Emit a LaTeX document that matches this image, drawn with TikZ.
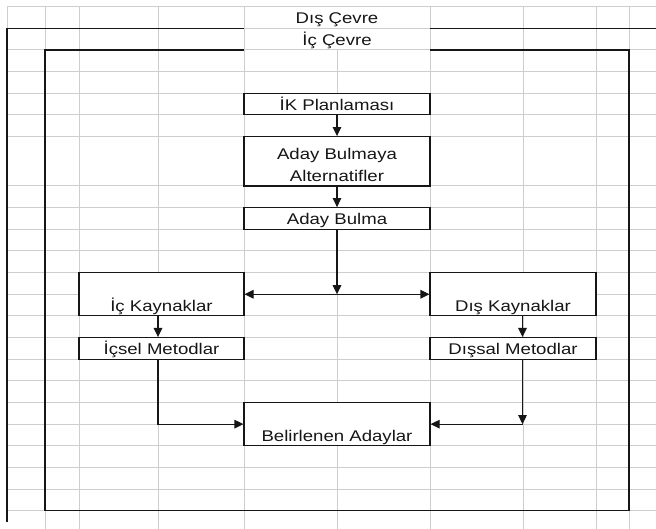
\documentclass[tikz,border=0pt]{standalone}
\usepackage{fontspec}
\setmainfont{Liberation Sans}[FakeStretch=1.2]
\usetikzlibrary{arrows.meta}
\definecolor{gridgray}{RGB}{206,206,206}
\definecolor{ink}{RGB}{22,22,22}
\begin{document}
\begin{tikzpicture}[x=1pt,y=-1pt,
  txt/.style={font=\fontsize{15.5pt}{21.7pt}\selectfont, text=ink, inner sep=0pt},
  gridline/.style={draw=gridgray, line width=1pt},
  frameline/.style={draw=ink, line width=1.3pt},
  box/.style={txt, draw=ink, line width=1.1pt, fill=white},
  boxone/.style={box, minimum height=21.65pt, text height=17.2pt, text depth=4.45pt},
  boxtwo/.style={box, minimum height=43.3pt, text height=38.85pt, text depth=4.45pt},
  title/.style={txt, text height=17.2pt, text depth=4.45pt},
  arr/.style={draw=ink, line width=1.1pt, -{Triangle[length=9pt,width=8.5pt]}},
  arrtwo/.style={draw=ink, line width=1.1pt, {Triangle[length=9pt,width=8.5pt]}-{Triangle[length=9pt,width=8.5pt]}}
]
\useasboundingbox (0,0) rectangle (656,529);
\fill[white] (0,0) rectangle (656,529);

% worksheet grid
\foreach \y in {6.7,28.35,50,71.65,93.3,114.95,136.6,186,207.65,229.3,250.95,
                272.6,294.25,315.9,337.55,359.2,380.85,402.5,424.15,445.8,
                467.45,489.1,510.75}
  \draw[gridline] (7,\y) -- (656,\y);
\foreach \x in {45,79,158,244,430,523,596,629}
  \draw[gridline] (\x,6.7) -- (\x,529);
\draw[gridline] (337,50) -- (337,529);
\draw[gridline] (7,6.7) -- (7,28.35);

% outer and inner environment frames
\draw[frameline] (244,28.35) -- (7,28.35) -- (7,521.7);
\draw[frameline] (430,28.35) -- (656,28.35);
\draw[frameline] (244,50) -- (45,50) -- (45,510.75) -- (629,510.75) -- (629,50) -- (430,50);
\node[title] (dis) at (337,17.5) {Dış Çevre};
\node[title] (ic) at (337,39.2) {İç Çevre};

% process boxes
\node[boxone, minimum width=186pt] (ik) at (337,104.125) {İK Planlaması};
\node[box, minimum width=186pt, minimum height=49.4pt] (abma) at (337,161.3) {};
\node[txt, align=center] (abmatext) at (337,164.7) {Aday Bulmaya\\Alternatifler};
\node[boxone, minimum width=186pt] (ab) at (337,218.475) {Aday Bulma};
\node[boxtwo, minimum width=165pt] (ick) at (161.5,294.25) {İç Kaynaklar};
\node[boxone, minimum width=165pt] (icm) at (161.5,348.375) {İçsel Metodlar};
\node[boxtwo, minimum width=166pt] (dk) at (513,294.25) {Dış Kaynaklar};
\node[boxone, minimum width=166pt] (dm) at (513,348.375) {Dışsal Metodlar};
\node[boxtwo, minimum width=186pt] (bel) at (337,424.15) {Belirlenen Adaylar};

% connectors
\coordinate (lcol) at (158,0);
\coordinate (rcol) at (522.5,0);
\draw[arr] (ik.south) -- (abma.north);
\draw[arr] (abma.south) -- (ab.north);
\coordinate (split) at (ab.south |- ick.east);
\draw[arr] (ab.south) -- (split);
\draw[arrtwo] (ick.east) -- (dk.west);
\draw[arr] (ick.south -| lcol) -- (icm.north -| lcol);
\draw[arr] (dk.south -| rcol) -- (dm.north -| rcol);
\draw[arr] (icm.south -| lcol) |- (bel.west);
\coordinate (rturn) at (rcol |- bel.east);
\draw[arr] (dm.south -| rcol) -- (rturn);
\draw[arr] (rturn) -- (bel.east);
\end{tikzpicture}
\end{document}
